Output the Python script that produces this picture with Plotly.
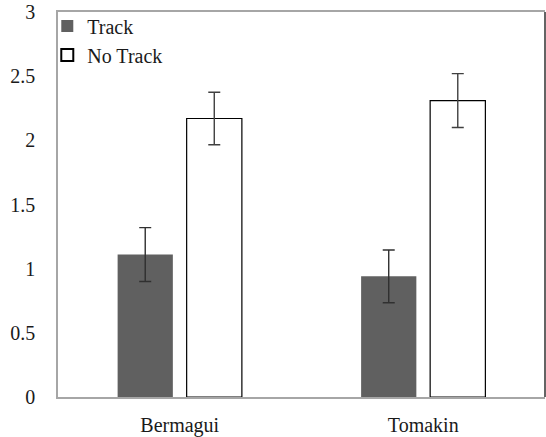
import plotly.graph_objects as go

# Mean values per site with standard-error bars
sites = ["Bermagui", "Tomakin"]
track = [1.11, 0.94]
track_err = [0.21, 0.205]
no_track = [2.17, 2.31]
no_track_err = [0.205, 0.21]

y_ticks = [0, 0.5, 1, 1.5, 2, 2.5, 3]

SERIF = dict(family="Liberation Serif", size=20, color="#1a1a1a")

fig = go.Figure()
fig.add_trace(go.Bar(
    name="Track", x=sites, y=track,
    marker=dict(color="#606060", line=dict(color="#606060", width=0)),
    error_y=dict(type="data", array=track_err, color="#303030", thickness=1.4, width=6),
))
fig.add_trace(go.Bar(
    name="No Track", x=sites, y=no_track,
    marker=dict(color="#ffffff", line=dict(color="#000000", width=1.2)),
    error_y=dict(type="data", array=no_track_err, color="#404040", thickness=1.4, width=6),
))

# dark right edge of the plot frame
fig.add_shape(type="line", xref="paper", yref="paper", x0=1, x1=1, y0=0, y1=1,
              line=dict(color="#303030", width=1.5))

fig.update_layout(
    template="none",
    width=546, height=437,
    margin=dict(l=58, r=1, t=12, b=40, autoexpand=False),
    paper_bgcolor="white", plot_bgcolor="white",
    barmode="group", bargap=0.433, bargroupgap=0.2,
    font=SERIF,
    showlegend=True,
    legend=dict(x=-0.022, y=1.014, xanchor="left", yanchor="top",
                bgcolor="rgba(0,0,0,0)", borderwidth=0, font=SERIF,
                tracegroupgap=0, itemsizing="constant"),
    xaxis=dict(showline=True, linecolor="#a6a6a6", linewidth=1.5, mirror=True,
               ticks="", ticklabelstandoff=9, showgrid=False, zeroline=False,
               automargin=False, tickfont=SERIF),
    yaxis=dict(range=[0, 3], tickvals=y_ticks, showline=True, linecolor="#a6a6a6",
               linewidth=1.5, ticks="", ticklabelstandoff=17, showgrid=False,
               zeroline=False, automargin=False, tickfont=SERIF),
)

fig.write_html("out.html")
